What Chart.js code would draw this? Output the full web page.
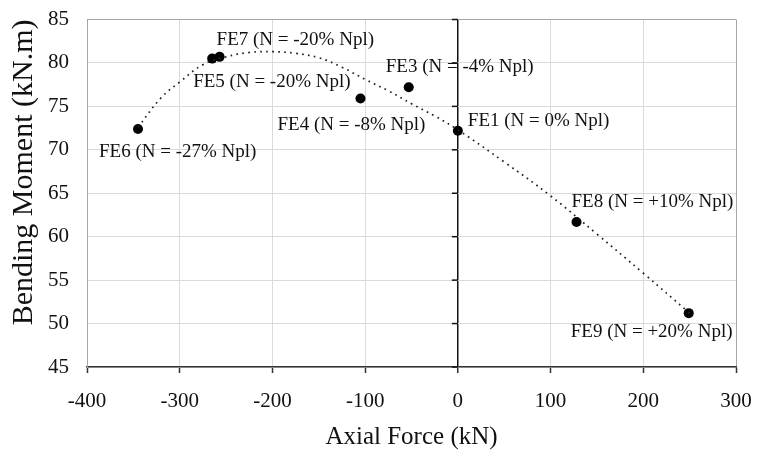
<!DOCTYPE html>
<html>
<head>
<meta charset="utf-8">
<script src="https://cdn.jsdelivr.net/npm/chart.js@4.4.1/dist/chart.umd.min.js"></script>
<style>
  html, body { margin: 0; padding: 0; background: #fff; }
  #wrap { width: 757px; height: 453px; }
</style>
</head>
<body>
<div id="wrap"><canvas id="myChart" width="757" height="453"></canvas></div>
<script>
// Setup - FE results
const caseNames = ['FE1', 'FE3', 'FE4', 'FE5', 'FE6', 'FE7', 'FE8', 'FE9'];
const caseLabels = [
    'FE1 (N = 0% Npl)', 'FE3 (N = -4% Npl)', 'FE4 (N = -8% Npl)', 'FE5 (N = -20% Npl)',
    'FE6 (N = -27% Npl)', 'FE7 (N = -20% Npl)', 'FE8 (N = +10% Npl)', 'FE9 (N = +20% Npl)'
];
const axialForce = [0, -53, -105, -265, -345, -257, 128, 249];
const bendingMoment = [72.2, 77.2, 75.9, 80.5, 72.4, 80.7, 61.7, 51.2];

// dotted trend line, read at intervals along the curve
const trendX = [-345, -320, -300, -275, -250, -225, -200, -175, -150, -125, -100, -75, -50, -25, 0, 50, 100, 150, 200, 250];
const trendY = [72.6, 76.0, 77.8, 79.8, 80.7, 81.2, 81.3, 81.1, 80.6, 79.5, 78.1, 76.8, 75.3, 73.9, 72.3, 68.6, 64.7, 60.3, 55.8, 51.2];

const xTicks = [-400, -300, -200, -100, 0, 100, 200, 300];
const yTicks = [45, 50, 55, 60, 65, 70, 75, 80, 85];

const serif = '"Liberation Serif", "Times New Roman", serif';

const points = axialForce.map(function (x, i) {
    return { x: x, y: bendingMoment[i] };
});
const trend = trendX.map(function (x, i) {
    return { x: x, y: trendY[i] };
});

// text placement next to each point (dx to text start, dy to text middle)
const labelPlacement = {
    FE1: [10, -10], FE3: [-23, -20], FE4: [-83, 26], FE5: [-19, 23],
    FE6: [-39, 23], FE7: [-3, -17], FE8: [-5, -20], FE9: [-118, 19]
};

const pointLabels = {
    id: 'pointLabels',
    afterDatasetsDraw(chart) {
        const ctx = chart.ctx;
        const meta = chart.getDatasetMeta(1);
        ctx.save();
        ctx.font = '19px ' + serif;
        ctx.fillStyle = '#111';
        ctx.textBaseline = 'middle';
        ctx.textAlign = 'left';
        meta.data.forEach(function (el, i) {
            const off = labelPlacement[caseNames[i]];
            ctx.fillText(caseLabels[i], el.x + off[0], el.y + off[1]);
        });
        ctx.restore();
    }
};

// small tick marks on the vertical axis line that crosses at x = 0
const zeroAxisTicks = {
    id: 'zeroAxisTicks',
    beforeDatasetsDraw(chart) {
        const ctx = chart.ctx;
        const xs = chart.scales.x, ys = chart.scales.y;
        const x0 = xs.getPixelForValue(0);
        ctx.save();
        ctx.strokeStyle = '#111';
        ctx.lineWidth = 1.5;
        ys.ticks.forEach(function (t) {
            const y = ys.getPixelForValue(t.value);
            ctx.beginPath();
            ctx.moveTo(x0 - 6, y);
            ctx.lineTo(x0, y);
            ctx.stroke();
        });
        ctx.restore();
    }
};

const dataObj = {
    datasets: [
        {
            label: 'Trend',
            data: trend,
            showLine: true,
            borderColor: '#222',
            borderWidth: 1.7,
            borderDash: [1.7, 4.3],
            pointRadius: 0,
            tension: 0.4,
            fill: false
        },
        {
            label: 'FE',
            data: points,
            showLine: false,
            pointRadius: 5,
            pointBackgroundColor: '#000',
            pointBorderColor: '#000',
            pointBorderWidth: 0
        }
    ]
};

const chartArea = document.getElementById('myChart');

const chartContent = new Chart(chartArea, {
    type: 'scatter',
    data: dataObj,
    plugins: [zeroAxisTicks, pointLabels],
    options: {
        responsive: false,
        animation: false,
        layout: { padding: { left: 0, right: 21, top: 19.5, bottom: 0 } },
        plugins: {
            legend: { display: false },
            tooltip: { enabled: false }
        },
        scales: {
            x: {
                type: 'linear',
                min: -400,
                max: 300,
                afterBuildTicks: function (axis) {
                    axis.ticks = xTicks.map(function (v) { return { value: v }; });
                },
                afterFit: function (axis) {
                    axis.height = 86;
                    axis.paddingLeft = 0;
                    axis.paddingRight = 0;
                },
                border: { display: true, color: '#333', width: 1.5 },
                grid: {
                    color: function (c) {
                        if (c.tick && c.tick.value === 0) return '#111';
                        if (c.tick && (c.tick.value === 300 || c.tick.value === -400)) return '#a6a6a6';
                        return '#dadada';
                    },
                    lineWidth: function (c) {
                        return c.tick && c.tick.value === 0 ? 1.5 : 1;
                    },
                    drawTicks: true,
                    tickLength: 6,
                    tickColor: '#333',
                    tickWidth: 1.5
                },
                ticks: {
                    color: '#111',
                    padding: 16,
                    maxRotation: 0,
                    font: { family: serif, size: 21 }
                },
                title: {
                    display: true,
                    text: 'Axial Force (kN)',
                    color: '#111',
                    padding: { top: 0, bottom: 1 },
                    font: { family: serif, size: 25 }
                }
            },
            y: {
                type: 'linear',
                min: 45,
                max: 85,
                afterBuildTicks: function (axis) {
                    axis.ticks = yTicks.map(function (v) { return { value: v }; });
                },
                afterFit: function (axis) {
                    axis.width = 87;
                    axis.paddingTop = 0;
                    axis.paddingBottom = 0;
                },
                border: { display: true, color: '#a6a6a6', width: 1 },
                grid: {
                    color: function (c) {
                        if (c.tick && c.tick.value === 85) return '#a6a6a6';
                        return '#dadada';
                    },
                    drawTicks: false
                },
                ticks: {
                    color: '#111',
                    padding: 18,
                    font: { family: serif, size: 21 }
                },
                title: {
                    display: true,
                    text: 'Bending Moment (kN.m)',
                    align: 'end',
                    color: '#111',
                    padding: { top: 6, bottom: 0 },
                    font: { family: serif, size: 30 }
                }
            }
        }
    }
});
</script>
</body>
</html>
